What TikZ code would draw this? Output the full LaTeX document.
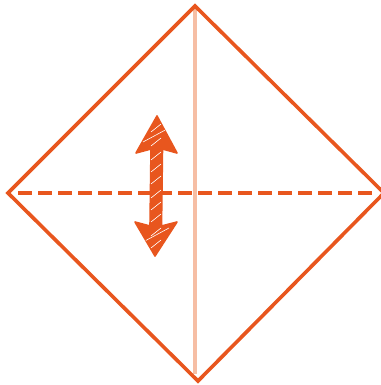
\documentclass[tikz,border=0pt]{standalone}
\usetikzlibrary{calc}
\definecolor{sketchorange}{RGB}{232,86,30}
\definecolor{lightorange}{RGB}{246,190,164}
\tikzset{
  edge/.style={draw=sketchorange,line width=3.6pt,line join=miter},
  guide/.style={draw=lightorange,line width=3.6pt},
  fold/.style={draw=sketchorange,line width=3.6pt,dash pattern=on 14pt off 6pt},
  arrowbody/.style={fill=sketchorange,draw=sketchorange,line width=1.6pt,line join=round},
  hatch/.style={draw=white,line width=0.6pt}
}
\begin{document}
\begin{tikzpicture}[x=1pt,y=-1pt]
\useasboundingbox (0,0) rectangle (380,385);
\coordinate (T) at (195,6);
\coordinate (R) at (384,193);
\coordinate (B) at (198,381);
\coordinate (L) at (8,193);
\coordinate (gT) at (195,8);
\coordinate (gB) at (195,374);
\coordinate (dL) at (18,193);
\coordinate (dR) at (373,193);
% light vertical guide
\draw[guide] (gT) -- (gB);
% diamond
\draw[edge] (T) -- (R) -- (B) -- (L) -- cycle;
% dashed fold line
\draw[fold] (dL) -- (dR);
% sketchy double arrow
\path[arrowbody] (157,116) -- (177,153) -- (162.5,149) -- (161.5,226) -- (177,222)
  -- (155,256) -- (135,222) -- (150,226) -- (151,149) -- (136,153) -- cycle;
\begin{scope}
\clip (157,116) -- (177,153) -- (162.5,149) -- (161.5,226) -- (177,222)
  -- (155,256) -- (135,222) -- (150,226) -- (151,149) -- (136,153) -- cycle;
\foreach \y in {128,142,156,168,180,194,206,218,232,244}{
  \draw[hatch] (151,\y+4) -- (161,\y-4);
}
\foreach \y in {136,236}{
  \draw[hatch] (143,\y+6) -- (169,\y-8);
}
\end{scope}
\end{tikzpicture}
\end{document}
